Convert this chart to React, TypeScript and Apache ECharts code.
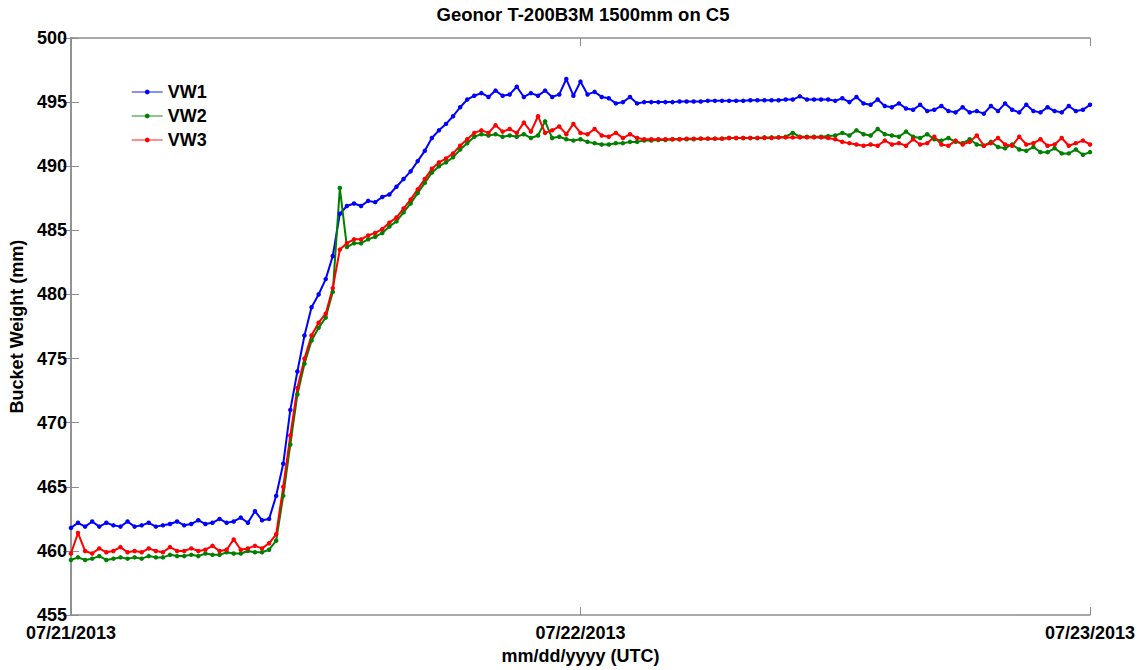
import React, { useEffect, useRef } from "react";
import * as echarts from "echarts";

const TITLE = "Geonor T-200B3M 1500mm on C5";
const X_TICK_LABELS = ["07/21/2013", "07/22/2013", "07/23/2013"];
const STEP_HOURS = 1 / 3; // 20-minute samples from 07/21/2013 00:00 UTC

const VW1 = [
  461.8, 462.2, 461.9, 462.3, 461.9, 462.2, 462.0, 461.9, 462.3, 461.9,
  462.0, 462.2, 461.9, 462.0, 462.1, 462.3, 462.0, 462.1, 462.4, 462.1,
  462.2, 462.5, 462.2, 462.3, 462.6, 462.2, 463.1, 462.4, 462.5, 464.3,
  466.8, 471.0, 474.0, 476.8, 479.0, 480.0, 481.2, 483.0, 486.3, 486.9,
  487.1, 486.9, 487.3, 487.2, 487.6, 487.8, 488.4, 489.0, 489.6, 490.4,
  491.2, 492.2, 492.8, 493.3, 493.9, 494.6, 495.2, 495.5, 495.7, 495.4,
  495.9, 495.5, 495.6, 496.2, 495.4, 495.7, 495.5, 495.9, 495.4, 495.6,
  496.8, 495.5, 496.6, 495.6, 495.8, 495.4, 495.3, 494.9, 495.0, 495.4,
  494.9, 495.0, 495.0, 495.0, 495.0, 495.0, 495.05, 495.05, 495.05, 495.05,
  495.1, 495.1, 495.1, 495.1, 495.1, 495.1, 495.15, 495.15, 495.15, 495.15,
  495.15, 495.2, 495.2, 495.45, 495.2, 495.2, 495.2, 495.2, 495.1, 495.3,
  495.0, 495.4, 494.9, 494.8, 495.2, 494.7, 494.6, 494.9, 494.5, 494.4,
  494.8, 494.3, 494.4, 494.7, 494.3, 494.2, 494.6, 494.2, 494.3, 494.1,
  494.7, 494.3, 494.9, 494.4, 494.2, 494.8, 494.3, 494.2, 494.6, 494.3,
  494.2, 494.7, 494.3, 494.4, 494.8,
];

const VW2 = [
  459.3, 459.5, 459.3, 459.4, 459.6, 459.3, 459.4, 459.5, 459.4, 459.5,
  459.4, 459.6, 459.5, 459.5, 459.7, 459.6, 459.6, 459.7, 459.6, 459.8,
  459.7, 459.7, 459.9, 459.8, 459.8, 460.0, 459.9, 459.9, 460.1, 460.8,
  464.3, 468.3, 472.2, 474.6, 476.4, 477.4, 478.2, 480.2, 488.3, 483.7,
  484.0, 484.0, 484.3, 484.5, 484.8, 485.3, 485.7, 486.4, 487.1, 487.9,
  488.7, 489.5, 490.0, 490.3, 490.7, 491.3, 491.8, 492.3, 492.5, 492.4,
  492.5, 492.3, 492.4, 492.3, 492.5, 492.2, 492.4, 493.5, 492.2, 492.3,
  492.1, 492.0, 492.1, 491.9, 491.8, 491.7, 491.7, 491.8, 491.8, 491.9,
  491.9, 492.0, 492.0, 492.05, 492.05, 492.1, 492.1, 492.1, 492.1, 492.15,
  492.15, 492.15, 492.15, 492.2, 492.2, 492.2, 492.2, 492.2, 492.25, 492.25,
  492.25, 492.3, 492.6, 492.3, 492.3, 492.3, 492.3, 492.35, 492.4, 492.6,
  492.4, 492.8, 492.5, 492.4, 492.9, 492.5, 492.4, 492.3, 492.7, 492.3,
  492.2, 492.5, 492.1, 492.0, 492.2, 491.9, 491.8, 492.1, 491.7, 491.6,
  491.9, 491.5, 491.4, 491.7, 491.3, 491.2, 491.5, 491.1, 491.1, 491.4,
  491.0, 491.0, 491.3, 490.9, 491.1,
];

const VW3 = [
  459.8, 461.4, 460.0, 459.8, 460.2, 459.9, 460.0, 460.3, 459.9, 460.0,
  459.9, 460.2, 460.0, 459.9, 460.3, 460.0, 460.0, 460.2, 460.0, 460.1,
  460.4, 460.0, 460.1, 460.9, 460.1, 460.2, 460.4, 460.2, 460.6, 461.3,
  465.0, 469.0, 472.7, 475.0, 476.8, 477.8, 478.5, 480.5, 483.5, 484.0,
  484.3, 484.3, 484.6, 484.8, 485.1, 485.6, 486.0, 486.7, 487.4, 488.2,
  489.0, 489.8, 490.3, 490.6, 491.0, 491.6, 492.1, 492.6, 492.8, 492.6,
  493.2, 492.7, 492.9, 492.6, 493.4, 492.7, 493.9, 492.6, 492.8, 493.1,
  492.5, 493.3, 492.6, 492.5, 492.9, 492.4, 492.3, 492.6, 492.2, 492.5,
  492.2, 492.1, 492.1, 492.1, 492.1, 492.1, 492.1, 492.15, 492.15, 492.15,
  492.15, 492.15, 492.15, 492.2, 492.2, 492.2, 492.2, 492.2, 492.2, 492.2,
  492.25, 492.25, 492.25, 492.25, 492.25, 492.25, 492.25, 492.2, 492.1, 491.9,
  491.8, 491.7, 491.6, 491.7, 491.6, 492.0, 491.7, 491.8, 491.6, 492.1,
  491.7, 491.8, 492.3, 491.7, 491.6, 492.0, 491.7, 491.9, 492.4, 491.6,
  491.8, 492.2, 491.7, 491.6, 492.3, 491.7, 491.8, 492.1, 491.6, 491.7,
  492.2, 491.6, 491.8, 492.0, 491.7,
];

const SERIES_NAMES = ["VW1", "VW2", "VW3"];
const SERIES_COLORS = ["#0000ff", "#008000", "#ff0000"];
const SERIES_VALUES = [VW1, VW2, VW3];

const FONT = "'Liberation Sans', Arial, Helvetica, sans-serif";
const AXIS_GRAY = "#8c8c8c";

export default function App() {
  const ref = useRef<HTMLDivElement>(null);

  useEffect(() => {
    if (!ref.current) return;
    const chart = echarts.init(ref.current, null, { renderer: "svg" });

    const xCommon = {
      type: "value" as const,
      min: 0,
      max: 48,
      interval: 24,
      splitLine: { show: false },
      axisLine: { show: true, lineStyle: { color: AXIS_GRAY, width: 1.5 } },
      axisTick: { show: true, inside: true, length: 8, lineStyle: { color: AXIS_GRAY } },
    };
    const yCommon = {
      type: "value" as const,
      min: 455,
      max: 500,
      interval: 5,
      splitLine: { show: false },
      axisLine: { show: true, lineStyle: { color: AXIS_GRAY, width: 1.5 } },
      axisTick: { show: true, inside: true, length: 8, lineStyle: { color: AXIS_GRAY } },
    };

    chart.setOption({
      animation: false,
      backgroundColor: "#ffffff",
      textStyle: { fontFamily: FONT },
      title: {
        text: TITLE,
        left: 578,
        textAlign: "center",
        top: 0,
        textStyle: { fontFamily: FONT, fontSize: 18.5, fontWeight: "bold", color: "#000" },
      },
      grid: { left: 65, right: 54, top: 38, bottom: 48 },
      legend: {
        orient: "vertical",
        left: 126,
        top: 78,
        itemWidth: 31,
        itemHeight: 6,
        itemGap: 6,
        data: SERIES_NAMES.map((n, k) => ({
          name: n,
          itemStyle: { color: SERIES_COLORS[k] },
          lineStyle: { color: SERIES_COLORS[k], opacity: 0.6, width: 1.5 },
        })),
        textStyle: { fontFamily: FONT, fontSize: 18, fontWeight: "bold", color: "#000" },
      },
      xAxis: [
        {
          ...xCommon,
          position: "bottom",
          name: "mm/dd/yyyy (UTC)",
          nameLocation: "middle",
          nameGap: 24,
          nameTextStyle: { fontFamily: FONT, fontSize: 18, fontWeight: "bold", color: "#000" },
          axisLabel: {
            show: true,
            margin: 9,
            fontFamily: FONT,
            fontSize: 18,
            fontWeight: "bold",
            color: "#000",
            showMinLabel: true,
            showMaxLabel: true,
            formatter: (v: number) => X_TICK_LABELS[Math.round(v / 24)] ?? "",
          },
        },
        {
          ...xCommon,
          position: "top",
          axisLabel: { show: false },
        },
      ],
      yAxis: [
        {
          ...yCommon,
          position: "left",
          name: "Bucket Weight (mm)",
          nameLocation: "middle",
          nameGap: 38,
          nameTextStyle: { fontFamily: FONT, fontSize: 18, fontWeight: "bold", color: "#000" },
          axisLabel: {
            show: true,
            margin: 4,
            fontFamily: FONT,
            fontSize: 18,
            fontWeight: "bold",
            color: "#000",
          },
        },
        {
          ...yCommon,
          position: "right",
          axisLabel: { show: false },
        },
      ],
      series: SERIES_VALUES.map((vals, k) => ({
        name: SERIES_NAMES[k],
        type: "line",
        xAxisIndex: 0,
        yAxisIndex: 0,
        data: vals.map((v, i) => [i * STEP_HOURS, v]),
        symbol: "circle",
        symbolSize: 4.5,
        showSymbol: true,
        lineStyle: { color: SERIES_COLORS[k], width: 2 },
        itemStyle: { color: SERIES_COLORS[k] },
        emphasis: { disabled: true },
      })),
    });

    return () => chart.dispose();
  }, []);

  return (
    <div
      ref={ref}
      style={{ position: "fixed", left: 0, top: 0, width: 1144, height: 670, background: "#fff" }}
    />
  );
}
